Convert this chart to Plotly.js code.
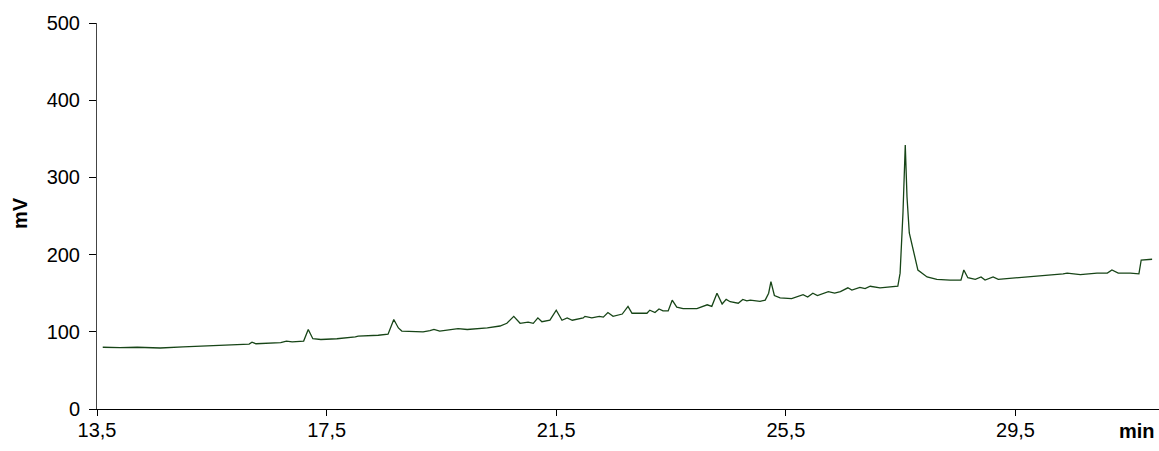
<!DOCTYPE html>
<html>
<head>
<meta charset="utf-8">
<script src="https://cdn.plot.ly/plotly-3.0.1.min.js"></script>
<style>html,body{margin:0;padding:0;background:#fff;}#chart{width:1159px;height:451px;}</style>
</head>
<body>
<div id="chart"></div>
<script>
// Retention time (min)
const timeMin = [
  13.6, 13.9, 14.2, 14.6, 15.0, 15.5, 16.0, 16.15, 16.2, 16.27, 16.7, 16.8, 16.9, 17.1, 17.18, 17.26, 17.4,
  17.68, 18.0, 18.05, 18.4, 18.57, 18.67, 18.75, 18.81, 19.0, 19.18, 19.3, 19.37, 19.47, 19.79, 19.95,
  20.3, 20.52, 20.64, 20.76, 20.87, 21.01, 21.10, 21.18, 21.25, 21.39, 21.50, 21.60, 21.69, 21.78, 21.97,
  22.0, 22.12, 22.25, 22.32, 22.40, 22.49, 22.65, 22.75, 22.82, 23.08, 23.13, 23.22, 23.29, 23.36, 23.45,
  23.52, 23.60, 23.71, 23.95, 24.06, 24.13, 24.21, 24.30, 24.39, 24.46, 24.53, 24.67, 24.75, 24.82, 24.88,
  25.05, 25.14, 25.20, 25.24, 25.30, 25.40, 25.60, 25.80, 25.88, 25.97, 26.05, 26.24, 26.35, 26.45, 26.58,
  26.65, 26.79, 26.88, 26.97, 27.14, 27.32, 27.45, 27.49, 27.54, 27.58, 27.61, 27.65, 27.72, 27.80, 27.96,
  28.13, 28.36, 28.55, 28.60, 28.67, 28.80, 28.90, 28.97, 29.11, 29.20, 29.75, 30.33, 30.40, 30.63, 30.92,
  31.10, 31.18, 31.29, 31.50, 31.65, 31.69, 31.88
];
// Detector signal (mV)
const signalMV = [
  80, 79.5, 80, 79, 80.5, 82, 83.5, 84, 86.5, 84.5, 86, 88, 87, 88, 103, 91, 90,
  91, 93.5, 94.5, 95.5, 97, 116, 105, 101, 100.5, 100, 101.5, 103, 101, 104, 103,
  105, 107.5, 111, 120, 111, 112.5, 111, 118, 113, 115, 128, 115, 118, 115, 118,
  120, 118, 120, 119, 125, 120, 123, 133, 124, 124, 128, 125, 129.5, 127, 127,
  141, 132, 130, 130, 133, 135, 133, 150, 136, 142, 139, 137, 142, 140, 141,
  139.5, 141, 150, 165, 147, 144, 143, 148, 145, 150, 147, 152, 150, 152, 157,
  154, 157.5, 156, 159, 157, 158, 159, 176, 254, 342, 275, 228, 206, 180, 171,
  168, 167, 167, 180, 170, 168, 171, 167, 171, 168, 171, 175, 176, 174, 176,
  176, 180, 176, 176, 175, 193, 194
];
const xTickVals = [13.5, 17.5, 21.5, 25.5, 29.5];
const xTickText = ["13,5", "17,5", "21,5", "25,5", "29,5"];
const yTickVals = [0, 100, 200, 300, 400, 500];

const font = "Liberation Sans, Arial, sans-serif";

Plotly.newPlot("chart", [{
  x: timeMin,
  y: signalMV,
  type: "scatter",
  mode: "lines",
  line: {color: "#174517", width: 1.3},
  hoverinfo: "skip"
}], {
  width: 1159,
  height: 451,
  margin: {l: 97, r: 0, t: 23, b: 42},
  paper_bgcolor: "#ffffff",
  plot_bgcolor: "#ffffff",
  showlegend: false,
  font: {family: font, size: 20, color: "#000"},
  xaxis: {
    range: [13.5, 32.0],
    tickvals: xTickVals,
    ticktext: xTickText,
    ticks: "outside",
    ticklen: 6,
    tickcolor: "#000",
    ticklabelstandoff: -3,
    showline: true,
    linecolor: "#000",
    linewidth: 1,
    showgrid: false,
    zeroline: false,
    tickfont: {family: font, size: 20, color: "#000"}
  },
  yaxis: {
    range: [0, 500],
    tickvals: yTickVals,
    ticks: "outside",
    ticklen: 7,
    tickcolor: "#000",
    ticklabelstandoff: 5,
    showline: true,
    linecolor: "#444",
    linewidth: 1,
    showgrid: false,
    zeroline: false,
    tickfont: {family: font, size: 20, color: "#000"}
  },
  annotations: [
    {text: "<b>min</b>", xref: "paper", yref: "paper", x: 0.979, y: -0.057,
     xanchor: "center", yanchor: "middle", showarrow: false,
     font: {family: font, size: 20, color: "#000"}},
    {text: "<b>mV</b>", xref: "paper", yref: "paper", x: -0.0725, y: 0.508,
     xanchor: "center", yanchor: "middle", showarrow: false, textangle: -90,
     font: {family: font, size: 20, color: "#000"}}
  ]
}, {staticPlot: true, displayModeBar: false});
</script>
</body>
</html>
